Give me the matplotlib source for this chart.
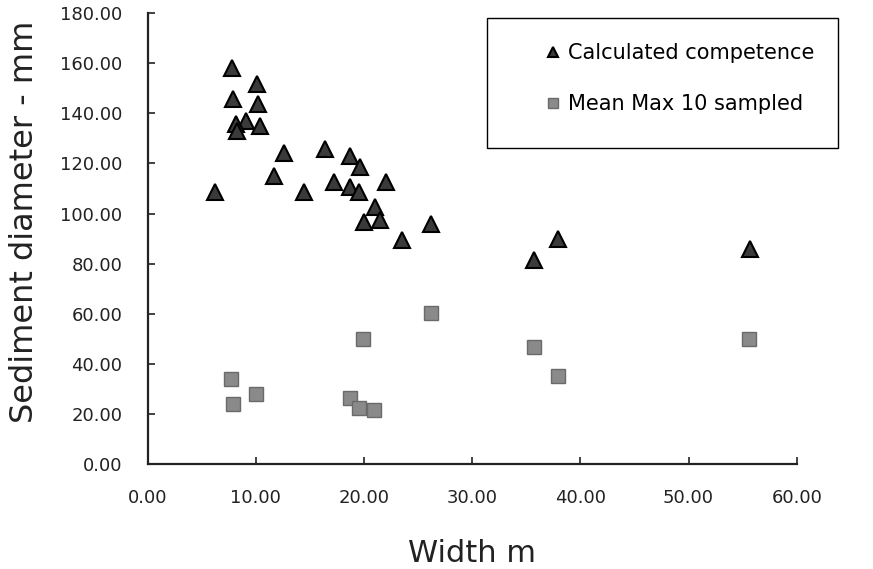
import matplotlib.pyplot as plt
from matplotlib.patches import Rectangle
import numpy as np

# values
calc_width = [7.8, 10.1, 7.9, 10.2, 9.1, 8.2, 8.3, 10.4, 12.6, 16.4, 18.7, 19.6,
              11.7, 17.2, 18.7, 19.5, 22.0, 6.2, 14.5,
              21.0, 20.0, 21.5, 26.2, 23.5, 35.7, 37.9, 55.7]
calc_comp = [158.2, 151.6, 145.7, 143.9, 137.0, 135.7, 132.8, 135.0, 124.2, 125.8, 123.1, 118.7,
             115.1, 112.5, 110.5, 108.5, 112.5, 108.5, 108.5,
             102.6, 96.8, 97.5, 95.9, 89.6, 81.4, 89.9, 86.0]

samp_width = [7.7, 7.9, 10.0, 18.7, 19.5, 20.9, 19.9, 26.2, 35.7, 37.9, 55.6]
samp_max = [33.9, 24.2, 28.2, 26.5, 22.6, 21.5, 50.1, 60.4, 46.6, 35.1, 49.8]

xticks = [0, 10, 20, 30, 40, 50, 60]
yticks = [0, 20, 40, 60, 80, 100, 120, 140, 160, 180]

W, H = 873, 569
fig = plt.figure(figsize=(W / 100, H / 100), dpi=100)
ax = fig.add_axes([0.169, 0.184, 0.7436, 0.793])

ax.plot(calc_width, calc_comp, linestyle='', marker='^', markersize=12,
        markerfacecolor='#3a3a3a', markeredgecolor='black', markeredgewidth=1.5,
        label='Calculated competence')
ax.plot(samp_width, samp_max, linestyle='', marker='s', markersize=10,
        markerfacecolor='#8a8a8a', markeredgecolor='#6a6a6a', markeredgewidth=1,
        label='Mean Max 10 sampled')

ax.set_xlim(0, 60)
ax.set_ylim(0, 180)
ax.set_xticks(xticks)
ax.set_yticks(yticks)
ax.set_xticklabels(['%.2f' % v for v in xticks])
ax.set_yticklabels(['%.2f' % v for v in yticks])
ax.tick_params(direction='in', length=5, width=1.2, labelsize=13, pad=18, colors='#222222')

for side in ['top', 'right']:
    ax.spines[side].set_visible(False)
for side in ['left', 'bottom']:
    ax.spines[side].set_linewidth(1.6)
    ax.spines[side].set_color('#222222')

ax.set_xlabel('Width m', fontsize=22, labelpad=23, color='#222222')
ax.set_ylabel('Sediment diameter - mm', fontsize=23, color='#222222')
ax.yaxis.set_label_coords(-0.166, 0.537)

leg = ax.legend(loc='upper left', bbox_to_anchor=(547 / W, 1 - 43 / H),
                bbox_transform=fig.transFigure, frameon=False,
                fontsize=15, markerscale=0.65, handlelength=0.6, handletextpad=0.4,
                labelspacing=1.5, borderpad=0, borderaxespad=0)

# legend box as drawn in the original (wider on the left)
fig.patches.append(Rectangle((487 / W, 1 - 148 / H), (838 - 487) / W, (148 - 18) / H,
                             transform=fig.transFigure, fill=False,
                             edgecolor='black', linewidth=1))

plt.savefig('out.png', dpi=100)
